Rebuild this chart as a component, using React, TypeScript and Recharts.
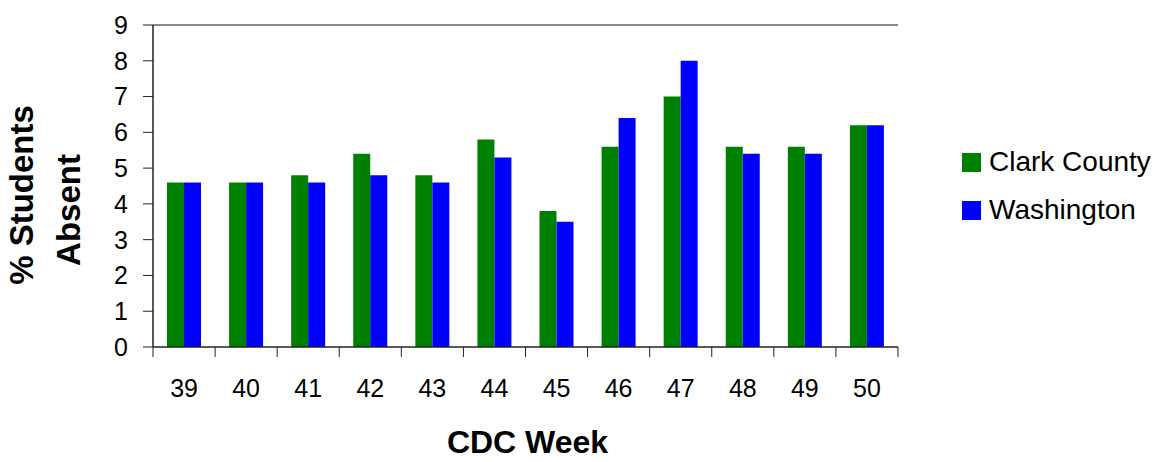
import { BarChart, Bar, XAxis, YAxis, ReferenceLine, Label } from "recharts";

const weeks = ["39", "40", "41", "42", "43", "44", "45", "46", "47", "48", "49", "50"];
const clarkCounty = [4.6, 4.6, 4.8, 5.4, 4.8, 5.8, 3.8, 5.6, 7.0, 5.6, 5.6, 6.2];
const washington = [4.6, 4.6, 4.6, 4.8, 4.6, 5.3, 3.5, 6.4, 8.0, 5.4, 5.4, 6.2];
const yTicks = [0, 1, 2, 3, 4, 5, 6, 7, 8, 9];

const series = [
  { key: "clark", name: "Clark County", color: "#008000" },
  { key: "wash", name: "Washington", color: "#0000FF" }
];

const data = weeks.map((w, i) => ({ week: w, clark: clarkCounty[i], wash: washington[i] }));

const FONT = '"Liberation Sans", Arial, sans-serif';
const W = 1158;
const H = 462;
const PLOT_LEFT = 153;
const PLOT_RIGHT = 898;
const band = (PLOT_RIGHT - PLOT_LEFT) / weeks.length;

// ticks sit between categories, like the old excel style
const WeekTick = (props: any) => {
  const { x, y, payload, index } = props;
  return (
    <g>
      <line x1={x - band / 2} x2={x - band / 2} y1={y} y2={y + 10} stroke="#222" />
      {index === weeks.length - 1 && (
        <line x1={x + band / 2} x2={x + band / 2} y1={y} y2={y + 10} stroke="#222" />
      )}
      <text x={x} y={y + 50} textAnchor="middle" fontSize={25} fontFamily={FONT} fill="#000">
        {payload.value}
      </text>
    </g>
  );
};

const YTitle = (props: any) => {
  const { viewBox } = props;
  const right = viewBox.x + viewBox.width;
  return (
    <g fontFamily={FONT} fontWeight="bold" fontSize={33} fill="#000">
      <text transform={`translate(${right - 120},${viewBox.y + 170}) rotate(-90)`} textAnchor="middle">
        % Students
      </text>
      <text transform={`translate(${right - 73},${viewBox.y + 185}) rotate(-90)`} textAnchor="middle">
        Absent
      </text>
    </g>
  );
};

const XTitle = (props: any) => {
  const { viewBox } = props;
  return (
    <text
      x={viewBox.x + viewBox.width / 2 + 2}
      y={viewBox.y + 106}
      textAnchor="middle"
      fontFamily={FONT}
      fontWeight="bold"
      fontSize={32}
      fill="#000"
    >
      CDC Week
    </text>
  );
};

export default function App() {
  return (
    <div style={{ position: "absolute", left: 0, top: 0, width: W, height: H, background: "#fff" }}>
      <BarChart
        width={W}
        height={H}
        data={data}
        margin={{ top: 25, right: W - PLOT_RIGHT, left: PLOT_LEFT - 60, bottom: 0 }}
        barGap={0}
      >
        <XAxis
          dataKey="week"
          height={115}
          tickLine={false}
          tickSize={0}
          tickMargin={0}
          tick={<WeekTick />}
          axisLine={{ stroke: "#222", strokeWidth: 1.5 }}
          interval={0}
        >
          <Label content={<XTitle />} />
        </XAxis>
        <YAxis
          yAxisId="left"
          width={60}
          domain={[0, 9]}
          ticks={yTicks}
          interval={0}
          tickSize={10}
          tickMargin={15}
          tickLine={{ stroke: "#222" }}
          axisLine={{ stroke: "#222", strokeWidth: 1.5 }}
          tick={{ fontSize: 25, fontFamily: FONT, fill: "#000" }}
        >
          <Label content={<YTitle />} />
        </YAxis>
        <YAxis
          yAxisId="right"
          orientation="right"
          width={0}
          domain={[0, 9]}
          tick={false}
          tickLine={false}
          axisLine={{ stroke: "#8c8c8c", strokeWidth: 2 }}
        />
        <ReferenceLine yAxisId="left" y={9} stroke="#8c8c8c" strokeWidth={2} />
        {series.map((s) => (
          <Bar
            key={s.key}
            yAxisId="left"
            dataKey={s.key}
            name={s.name}
            fill={s.color}
            barSize={17}
            isAnimationActive={false}
          />
        ))}
      </BarChart>
      <div style={{ position: "absolute", left: 962, top: 138, fontFamily: FONT, fontSize: 28 }}>
        {series.map((s) => (
          <div key={s.key} style={{ display: "flex", alignItems: "center", height: 48 }}>
            <div style={{ width: 19, height: 19, background: s.color, marginRight: 8 }} />
            <span>{s.name}</span>
          </div>
        ))}
      </div>
    </div>
  );
}
